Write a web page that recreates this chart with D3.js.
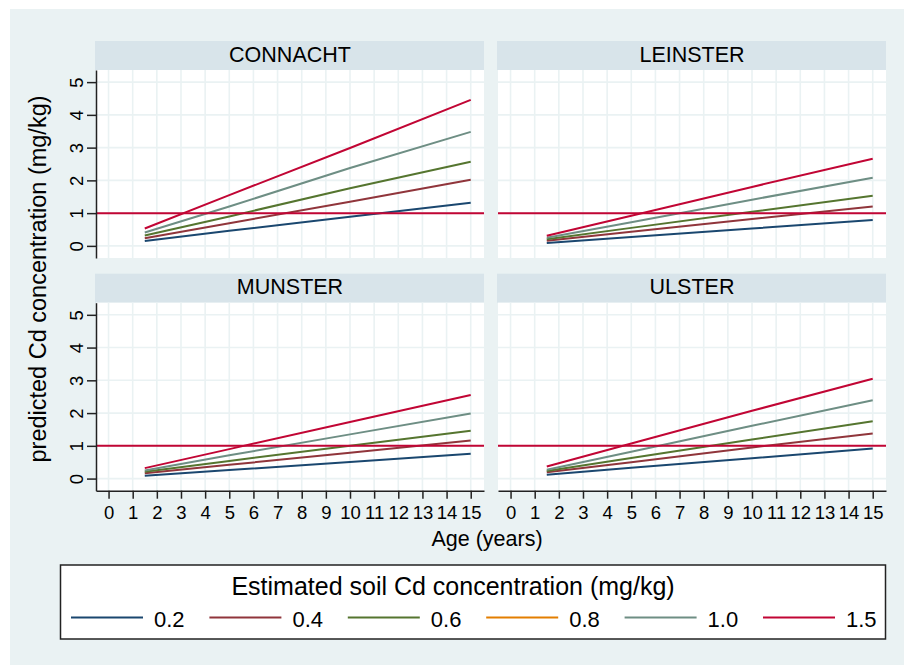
<!DOCTYPE html>
<html>
<head>
<meta charset="utf-8">
<script src="https://cdn.jsdelivr.net/npm/d3@7"></script>
<style>
  body { margin: 0; background: #fff; }
  svg text { font-family: "Liberation Sans", Arial, Helvetica, sans-serif; fill: #000; }
</style>
</head>
<body>
<div id="chart"></div>
<script>
// ages at which the predictions were read
const AGES = [1.5, 5, 10, 15];
const SOIL_LEVELS = ["0.2", "0.4", "0.6", "0.8", "1.0", "1.5"];
const REGIONS = ["CONNACHT", "LEINSTER", "MUNSTER", "ULSTER"];

// one row per soil level (0.8 has no line in the panels)
const connacht = [
  [0.15, 0.46, 0.89, 1.32],
  [0.23, 0.69, 1.35, 2.02],
  [0.32, 0.90, 1.76, 2.57],
  [],
  [0.41, 1.20, 2.38, 3.48],
  [0.53, 1.55, 2.99, 4.46]
];
const leinster = [
  [0.09, 0.27, 0.53, 0.79],
  [0.16, 0.43, 0.82, 1.20],
  [0.20, 0.55, 1.04, 1.53],
  [],
  [0.25, 0.72, 1.41, 2.08],
  [0.31, 0.92, 1.80, 2.66]
];
const munster = [
  [0.09, 0.26, 0.51, 0.76],
  [0.16, 0.42, 0.79, 1.16],
  [0.21, 0.54, 1.00, 1.46],
  [],
  [0.25, 0.71, 1.35, 1.99],
  [0.32, 0.90, 1.73, 2.55]
];
const ulster = [
  [0.12, 0.33, 0.62, 0.92],
  [0.19, 0.50, 0.95, 1.38],
  [0.23, 0.63, 1.19, 1.75],
  [],
  [0.27, 0.82, 1.61, 2.39],
  [0.37, 1.07, 2.07, 3.05]
];
const regionValues = [connacht, leinster, munster, ulster];

const X_TICKS = [0, 1, 2, 3, 4, 5, 6, 7, 8, 9, 10, 11, 12, 13, 14, 15];
const Y_TICKS = [0, 1, 2, 3, 4, 5];
const THRESHOLD = 1;

const SERIES_COLORS = ["#1a476f", "#90353b", "#55752f", "#e37e00", "#6e8e84", "#c10534"];

const PLOT_W = 388, PLOT_H = 188, HEADER_H = 29;
const COL_LEFT = [96, 498];
const ROW_TOP = [70, 302.7];
const FONT_TICK = 18.5, FONT_TITLE = 21.5;

const svg = d3.select("#chart")
  .append("svg")
  .attr("width", 904)
  .attr("height", 665);

// graph region
svg.append("rect")
  .attr("x", 10).attr("y", 9)
  .attr("width", 894).attr("height", 656)
  .attr("fill", "#eaf2f3");

const x = d3.scaleLinear().domain([-0.52, 15.55]).range([0, PLOT_W]);
const y = d3.scaleLinear().domain([-0.37, 5.37]).range([PLOT_H, 0]);

const line = d3.line()
  .x(d => x(d.age))
  .y(d => y(d.value));

const drawPanel = (name, values, col, row) => {
  const g = svg.append("g")
    .attr("transform", `translate(${COL_LEFT[col]}, ${ROW_TOP[row]})`);

  // title bar
  g.append("rect")
    .attr("x", -1).attr("y", -HEADER_H)
    .attr("width", PLOT_W + 1).attr("height", HEADER_H)
    .attr("fill", "#d8e4ea");
  g.append("text")
    .attr("x", PLOT_W / 2)
    .attr("y", -8.5)
    .attr("text-anchor", "middle")
    .style("font-size", FONT_TITLE + "px")
    .text(name);

  g.append("rect")
    .attr("width", PLOT_W).attr("height", PLOT_H)
    .attr("fill", "#fff");

  // grid
  g.selectAll("hGrid")
    .data(Y_TICKS)
    .enter()
    .append("line")
    .attr("x1", 0).attr("x2", PLOT_W)
    .attr("y1", d => y(d)).attr("y2", d => y(d))
    .attr("stroke", "#eaf2f3")
    .attr("stroke-width", 1.6);
  g.selectAll("vGrid")
    .data(X_TICKS)
    .enter()
    .append("line")
    .attr("y1", 0).attr("y2", PLOT_H)
    .attr("x1", d => x(d)).attr("x2", d => x(d))
    .attr("stroke", "#eaf2f3")
    .attr("stroke-width", 1.6);

  const series = values
    .map((vals, i) => ({
      level: SOIL_LEVELS[i],
      color: SERIES_COLORS[i],
      points: vals.map((v, j) => ({ age: AGES[j], value: v }))
    }))
    .filter(s => s.points.length > 0);

  g.selectAll("seriesLines")
    .data(series)
    .enter()
    .append("path")
    .attr("d", d => line(d.points))
    .attr("stroke", d => d.color)
    .attr("stroke-width", 2)
    .attr("fill", "none");

  // reference line
  g.append("line")
    .attr("x1", 0).attr("x2", PLOT_W)
    .attr("y1", y(THRESHOLD)).attr("y2", y(THRESHOLD))
    .attr("stroke", "#c10534")
    .attr("stroke-width", 2);

  if (col === 0) {
    const yAxis = g.append("g")
      .call(d3.axisLeft(y).tickValues(Y_TICKS).tickFormat(d3.format("d")).tickSize(9).tickSizeOuter(0));
    yAxis.select(".domain").attr("stroke", "#222").attr("stroke-width", 1.5);
    yAxis.selectAll(".tick line").attr("stroke", "#222").attr("stroke-width", 1.5);
    yAxis.selectAll(".tick text")
      .attr("x", 0).attr("y", -13.5).attr("dy", 0)
      .attr("text-anchor", "middle")
      .attr("transform", "rotate(-90)")
      .style("font-size", FONT_TICK + "px");
  }

  if (row === 1) {
    const xAxis = g.append("g")
      .attr("transform", `translate(0, ${PLOT_H})`)
      .call(d3.axisBottom(x).tickValues(X_TICKS).tickFormat(d3.format("d")).tickSize(8).tickSizeOuter(0));
    xAxis.select(".domain").attr("stroke", "#222").attr("stroke-width", 1.5);
    xAxis.selectAll(".tick line").attr("stroke", "#222").attr("stroke-width", 1.5);
    xAxis.selectAll(".tick text")
      .attr("y", 28.5).attr("dy", 0)
      .style("font-size", FONT_TICK + "px");
  }
};

REGIONS.forEach((name, i) => drawPanel(name, regionValues[i], i % 2, Math.floor(i / 2)));

// axis titles
svg.append("text")
  .attr("transform", "translate(46, 279) rotate(-90)")
  .attr("text-anchor", "middle")
  .style("font-size", "23.5px")
  .text("predicted Cd concentration (mg/kg)");

svg.append("text")
  .attr("x", 487)
  .attr("y", 546)
  .attr("text-anchor", "middle")
  .style("font-size", FONT_TITLE + "px")
  .text("Age (years)");

// legend
const legend = svg.append("g");
legend.append("rect")
  .attr("x", 60.5).attr("y", 565)
  .attr("width", 825).attr("height", 74)
  .attr("fill", "#fff")
  .attr("stroke", "#222")
  .attr("stroke-width", 1.5);
legend.append("text")
  .attr("x", 453)
  .attr("y", 595)
  .attr("text-anchor", "middle")
  .style("font-size", "25px")
  .text("Estimated soil Cd concentration (mg/kg)");

const items = legend.selectAll("legendItems")
  .data(SOIL_LEVELS)
  .enter()
  .append("g")
  .attr("transform", (d, i) => `translate(${71 + i * 138.4}, 0)`);
items.append("line")
  .attr("x1", 0).attr("x2", 72)
  .attr("y1", 617.5).attr("y2", 617.5)
  .attr("stroke", (d, i) => SERIES_COLORS[i])
  .attr("stroke-width", 2);
items.append("text")
  .attr("x", 83)
  .attr("y", 626.5)
  .style("font-size", "22px")
  .text(d => d);
</script>
</body>
</html>
